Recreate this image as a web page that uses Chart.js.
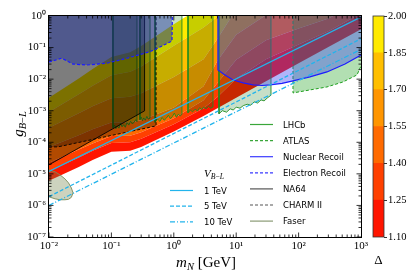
<!DOCTYPE html>
<html>
<head>
<meta charset="utf-8">
<script src="https://cdn.jsdelivr.net/npm/chart.js@4.4.1/dist/chart.umd.min.js"></script>
<style>
html,body{margin:0;padding:0;background:#fff;}
#wrap{position:relative;width:415px;height:277px;overflow:hidden;background:#fff;}
#main{position:absolute;left:0;top:0;}
#cb{position:absolute;left:362px;top:0;}
#handles{position:absolute;left:0;top:0;}
.t{position:absolute;white-space:nowrap;color:#000;}
.leg{font-family:"DejaVu Sans",sans-serif;font-size:8.5px;line-height:10px;}
.math{font-family:"Liberation Serif","DejaVu Serif",serif;}
sub{font-size:70%;vertical-align:-0.3em;line-height:0;}
</style>
</head>
<body>
<div id="wrap">
<canvas id="main" width="415" height="277"></canvas>
<canvas id="cb" width="53" height="277"></canvas>
<svg id="handles" width="415" height="277"></svg>
<div class="t math" style="left:18px;top:124px;transform:translate(-50%,-50%) rotate(-90deg);font-size:15px;line-height:16px;"><i>g</i><sub><i>B</i>−<i>L</i></sub></div>
<div class="t math" style="left:206px;top:262px;transform:translate(-50%,-50%);font-size:15px;line-height:16px;"><i>m</i><sub><i>N</i></sub> [GeV]</div>
<div class="t math" style="left:204px;top:173px;transform:translate(0,-50%);font-size:11px;line-height:12px;"><i>V</i><sub><i>B</i>−<i>L</i></sub></div>
</div>
<script>
// ---------- axis ticks ----------
const xTickValues = [1e-2, 1e-1, 1e0, 1e1, 1e2, 1e3];
const xTickLabels = ['10⁻²', '10⁻¹', '10⁰', '10¹', '10²', '10³'];
const yTickValues = [1e-7, 1e-6, 1e-5, 1e-4, 1e-3, 1e-2, 1e-1, 1e0];
const yTickLabels = ['10⁻⁷', '10⁻⁶', '10⁻⁵', '10⁻⁴', '10⁻³', '10⁻²', '10⁻¹', '10⁰'];

// ---------- Delta contour field (g values of each contour on a mass grid) ----------
const masses   = [0.01, 0.03, 0.05, 0.1, 0.2, 0.3, 1, 3, 5, 10, 30, 100, 300, 1000];
const delta110 = [6.0e-6, 1.66e-5, 2.75e-5, 5.0e-5, 5.4e-5, 7.1e-5, 2.19e-4, 6.8e-4, 1.2e-3, 2.57e-3, 8.5e-3, 3.16e-2, 0.105, 0.38];
const delta125 = [1.23e-5, 3.3e-5, 5.4e-5, 9.5e-5, 1.0e-4, 1.29e-4, 3.7e-4, 1.2e-3, 2.7e-3, 1.02e-2, 4.3e-2, 0.126, 0.33, 1.2];
const delta140 = [2.24e-5, 5.9e-5, 9.1e-5, 1.58e-4, 1.62e-4, 2.09e-4, 5.75e-4, 2.14e-3, 7.6e-3, 4.1e-2, 0.17, 0.4, 0.83, 3.0];
const delta155 = [7.1e-5, 1.66e-4, 2.57e-4, 4.2e-4, 4.3e-4, 5.0e-4, 1.26e-3, 6.0e-3, 3.8e-2, 0.257, 1.07, 1.58, 2.6, 9.5];
const delta170 = [2.9e-4, 8.3e-4, 1.38e-3, 2.5e-3, 2.75e-3, 3.6e-3, 1.17e-2, 4.3e-2, 0.19, 1.62, 5.4, 7.9, 10.5, 38];
const delta185 = [9.1e-4, 3.3e-3, 6.2e-3, 1.32e-2, 1.7e-2, 2.5e-2, 0.115, 0.43, 0.955, 6.5, 21, 32, 42, 151];
const delta200 = [2.57e-3, 1.05e-2, 2.1e-2, 5.0e-2, 7.1e-2, 0.112, 0.55, 2.14, 4.8, 26, 85, 126, 166, 600];
const deltaLevels = [1.10, 1.25, 1.40, 1.55, 1.70, 1.85, 2.00];
const bandColors = ['rgb(255,21,0)', 'rgb(255,64,0)', 'rgb(255,106,0)', 'rgb(255,149,0)', 'rgb(255,191,0)', 'rgb(255,234,0)'];

// ---------- exclusion regions ----------
const faserMass  = [0.01, 0.0125, 0.015, 0.018, 0.0205, 0.0228, 0.0243];
const faserUpper = [1.34e-5, 1.16e-5, 9.3e-6, 6.95e-6, 5.2e-6, 3.6e-6, 2.5e-6];
const faserLower = [1.87e-6, 1.62e-6, 1.51e-6, 1.51e-6, 1.56e-6, 1.8e-6, 2.5e-6];

const lhcbAMass = [0.106, 0.106, 0.112, 0.118, 0.125, 0.132, 0.14, 0.148, 0.157, 0.167, 0.178, 0.19, 0.203, 0.217, 0.232, 0.246, 0.257, 0.257];
const lhcbAG    = [1, 2.9e-4, 3.5e-4, 2.7e-4, 3.2e-4, 2.8e-4, 4.0e-4, 3.1e-4, 3.6e-4, 3.0e-4, 4.2e-4, 3.5e-4, 4.6e-4, 3.8e-4, 4.4e-4, 5.2e-4, 4.5e-4, 1];
const lhcbBMass = [0.287, 0.287, 0.30, 0.315, 0.33, 0.35, 0.37, 0.39, 0.416, 0.416];
const lhcbBG    = [1, 5.2e-4, 6.3e-4, 4.8e-4, 5.9e-4, 5.0e-4, 6.6e-4, 5.4e-4, 5.8e-4, 1];
const lhcbCMass = [0.5, 0.5, 0.55, 0.6, 0.65, 0.7, 0.76, 0.82, 0.88, 0.95, 1.02, 1.1, 1.18, 1.27, 1.35, 1.35];
const lhcbCG    = [1, 4.3e-4, 5.4e-4, 4.6e-4, 6.1e-4, 5.0e-4, 5.8e-4, 7.2e-4, 5.6e-4, 6.5e-4, 8.4e-4, 6.2e-4, 7.7e-4, 6.9e-4, 7.6e-4, 1];
const lhcbDMass = [1.69, 1.69, 1.85, 2.0, 2.2, 2.4, 2.6, 2.8, 3.0, 3.3, 3.6, 3.9, 4.25, 4.25];
const lhcbDG    = [1, 8.6e-4, 1.05e-3, 9.2e-4, 1.12e-3, 9.8e-4, 1.25e-3, 1.08e-3, 1.3e-3, 1.15e-3, 1.38e-3, 1.2e-3, 1.32e-3, 1];
const lhcbEMass = [5.3, 5.3, 6, 7, 8, 9, 10, 11.5, 13, 15, 17, 19.5, 22, 25, 28, 32, 36.1, 36.1];
const lhcbEG    = [1, 8.0e-4, 1.0e-3, 9.0e-4, 1.15e-3, 1.05e-3, 1.3e-3, 1.2e-3, 1.45e-3, 1.6e-3, 1.5e-3, 1.9e-3, 1.75e-3, 2.2e-3, 2.05e-3, 2.6e-3, 3.1e-3, 1];

const atlasMass = [81.3, 81.3, 152, 285, 515, 863, 1000];
const atlasG    = [1, 0.00366, 0.00455, 0.00566, 0.00815, 0.0136, 0.0262];

const nrMass = [5.1, 5.1, 6.6, 8.9, 12.9, 18.6, 25.9, 34.8, 54.2, 81.3, 152, 285, 554, 1000];
const nrG    = [1, 0.0196, 0.0136, 0.0094, 0.0076, 0.0066, 0.0063, 0.0066, 0.0073, 0.0088, 0.0118, 0.0169, 0.0303, 0.0583];

const charmMass = [0.01, 0.0139, 0.52, 0.52];
const charmG    = [7.15e-5, 7.15e-5, 3.3e-4, 1];

const na64Mass = [0.01, 0.34, 0.34];
const na64G    = [1.93e-5, 9.9e-4, 1];

const erMass = [0.01, 0.016, 0.0242, 0.0402, 0.084, 0.176, 0.416, 0.56, 0.935, 0.95];
const erG    = [0.035, 0.046, 0.030, 0.028, 0.0318, 0.0458, 0.0742, 0.097, 0.162, 1];

// ---------- V_{B-L} lines ----------
const vMass  = [0.01, 1000];
const v1TeV  = [1.2e-5, 0.93];
const v5TeV  = [1.9e-6, 0.19];
const v10TeV = [1.0e-6, 0.088];

// ---------- legends ----------
const vLegendLabels = ['1 TeV', '5 TeV', '10 TeV'];
const expLegendLabels = ['LHCb', 'ATLAS', 'Nuclear Recoil', 'Electron Recoil', 'NA64', 'CHARM II', 'Faser'];

function pts(xs, ys) { return xs.map((x, i) => ({x: x, y: ys[i]})); }

const datasets = [];
[delta110, delta125, delta140, delta155, delta170, delta185, delta200].forEach((c, i) => {
  datasets.push({
    data: pts(masses, c), borderWidth: 0, borderColor: 'rgba(0,0,0,0)',
    fill: i === 0 ? false : '-1',
    backgroundColor: i === 0 ? 'rgba(0,0,0,0)' : bandColors[i - 1],
    order: 20
  });
});

function region(xs, ys, fill, bg, line, dash, w, order) {
  datasets.push({data: pts(xs, ys), fill: fill, backgroundColor: bg, borderColor: line,
    borderDash: dash, borderWidth: w, order: order});
}
region(faserMass, faserUpper, '+1', 'rgba(112,128,69,0.35)', '#7d8c5a', [], 0.9, 9);
region(faserMass, faserLower, false, 'rgba(0,0,0,0)', '#7d8c5a', [], 0.9, 9);
[[lhcbAMass, lhcbAG], [lhcbBMass, lhcbBG], [lhcbCMass, lhcbCG], [lhcbDMass, lhcbDG], [lhcbEMass, lhcbEG]].forEach(p => {
  region(p[0], p[1], 'end', 'rgba(0,110,0,0.22)', '#1f8c1f', [], 0.9, 8);
});
region(atlasMass, atlasG, 'end', 'rgba(0,150,0,0.3)', '#1f9f1f', [3, 2], 1, 7);
region(nrMass, nrG, 'end', 'rgba(60,70,240,0.4)', '#1c1cff', [], 1.2, 6);
region(charmMass, charmG, 'end', 'rgba(0,0,0,0.3)', '#000000', [3, 2], 0.9, 5);
region(na64Mass, na64G, 'end', 'rgba(0,0,0,0.3)', '#000000', [], 0.9, 4);
region(erMass, erG, 'end', 'rgba(25,45,160,0.45)', '#1c1cff', [3, 2], 1.2, 3);

const vColor = '#22b4ec';
[[v1TeV, []], [v5TeV, [4, 2]], [v10TeV, [5, 2, 1, 2]]].forEach(p => {
  datasets.push({data: pts(vMass, p[0]), fill: false, borderColor: vColor, borderWidth: 1.3, borderDash: p[1], order: 0});
});

const decor = {
  id: 'decor',
  afterDraw(chart) {
    const ctx = chart.ctx, a = chart.chartArea, xs = chart.scales.x, ys = chart.scales.y;
    ctx.save();
    ctx.strokeStyle = '#000';
    ctx.lineWidth = 0.8;
    ctx.beginPath();
    for (let k = -2; k <= 2; k++) for (let j = 1; j <= 9; j++) {
      const v = j * Math.pow(10, k);
      const p = xs.getPixelForValue(v), L = j === 1 ? 4.5 : 2.5;
      ctx.moveTo(p, a.bottom); ctx.lineTo(p, a.bottom - L);
      ctx.moveTo(p, a.top); ctx.lineTo(p, a.top + L);
    }
    for (let k = -7; k <= -1; k++) for (let j = 1; j <= 9; j++) {
      const v = j * Math.pow(10, k);
      const p = ys.getPixelForValue(v), L = j === 1 ? 4.5 : 2.5;
      ctx.moveTo(a.left, p); ctx.lineTo(a.left + L, p);
      ctx.moveTo(a.right, p); ctx.lineTo(a.right - L, p);
    }
    ctx.stroke();
    ctx.lineWidth = 1;
    ctx.strokeRect(Math.round(a.left) - 0.5, Math.round(a.top) - 0.5, Math.round(a.right - a.left) + 1, Math.round(a.bottom - a.top) + 1);
    ctx.restore();
  }
};

new Chart(document.getElementById('main'), {
  type: 'line',
  data: {datasets: datasets},
  options: {
    responsive: false, animation: false, events: [],
    layout: {padding: {left: 0, top: 16, right: 54, bottom: 0}},
    plugins: {legend: {display: false}, tooltip: {enabled: false}},
    elements: {line: {tension: 0}, point: {radius: 0}},
    scales: {
      x: {
        type: 'logarithmic', min: 1e-2, max: 1e3,
        afterBuildTicks: s => { s.ticks = xTickValues.map(v => ({value: v})); },
        ticks: {callback: (v, i) => xTickLabels[i], font: {family: 'Liberation Serif', size: 11}, color: '#000', padding: 3, maxRotation: 0, autoSkip: false},
        grid: {display: false, drawTicks: false}, border: {display: false},
        afterFit: s => { s.height = 40; }
      },
      y: {
        type: 'logarithmic', min: 1e-7, max: 1,
        afterBuildTicks: s => { s.ticks = yTickValues.map(v => ({value: v})); },
        ticks: {callback: (v, i) => yTickLabels[i], font: {family: 'Liberation Serif', size: 11}, color: '#000', padding: 3, autoSkip: false},
        grid: {display: false, drawTicks: false}, border: {display: false},
        afterFit: s => { s.width = 49; }
      }
    }
  },
  plugins: [decor]
});

// ---------- colour bar ----------
const cbFrame = {
  id: 'cbFrame',
  afterDraw(chart) {
    const ctx = chart.ctx, a = chart.chartArea;
    ctx.save(); ctx.strokeStyle = '#333'; ctx.lineWidth = 0.8;
    ctx.strokeRect(a.left, a.top, a.right - a.left, a.bottom - a.top);
    ctx.restore();
  }
};
new Chart(document.getElementById('cb'), {
  type: 'bar',
  data: {
    labels: [''],
    datasets: bandColors.map((c, i) => ({
      data: [[deltaLevels[i], deltaLevels[i + 1]]], backgroundColor: c, borderWidth: 0,
      grouped: false, barPercentage: 1, categoryPercentage: 1
    }))
  },
  options: {
    responsive: false, animation: false, events: [],
    layout: {padding: {left: 11, top: 16, right: 0, bottom: 0}},
    plugins: {legend: {display: false}, tooltip: {enabled: false}},
    scales: {
      x: {
        grid: {display: false, drawTicks: false}, border: {display: false}, ticks: {display: false},
        title: {display: true, text: 'Δ', color: '#000', font: {family: 'Liberation Serif', size: 13}, padding: {top: 0, bottom: 9}},
        afterFit: s => { s.height = 40; }
      },
      y: {
        position: 'right', min: 1.10, max: 2.00,
        afterBuildTicks: s => { s.ticks = deltaLevels.map(v => ({value: v})); },
        ticks: {callback: v => v.toFixed(2), font: {family: 'Liberation Serif', size: 10.5}, color: '#000', padding: 1},
        grid: {drawOnChartArea: false, drawTicks: true, tickLength: 3, color: '#000', lineWidth: 0.8},
        border: {display: false},
        afterFit: s => { s.width = 31; }
      }
    }
  },
  plugins: [cbFrame]
});

// ---------- legends (HTML / SVG) ----------
const svg = document.getElementById('handles');
const wrap = document.getElementById('wrap');
function handle(x1, x2, y, color, dash) {
  const l = document.createElementNS('http://www.w3.org/2000/svg', 'line');
  l.setAttribute('x1', x1); l.setAttribute('x2', x2); l.setAttribute('y1', y); l.setAttribute('y2', y);
  l.setAttribute('stroke', color); l.setAttribute('stroke-width', '1.2');
  if (dash) l.setAttribute('stroke-dasharray', dash);
  svg.appendChild(l);
}
function label(x, y, text) {
  const d = document.createElement('div');
  d.className = 't leg';
  d.style.left = x + 'px'; d.style.top = (y - 5) + 'px';
  d.textContent = text;
  wrap.appendChild(d);
}
const vDash = ['', '4,2', '5,2,1,2'];
vLegendLabels.forEach((t, i) => {
  const y = 190.5 + i * 15.7;
  handle(170, 193, y, vColor, vDash[i]);
  label(204, y, t);
});
const expColors = ['#3aa63a', '#3aa63a', '#3a3aff', '#3a3aff', '#555555', '#555555', '#8a9a74'];
const expDash = ['', '3,2', '', '3,2', '', '3,2', ''];
expLegendLabels.forEach((t, i) => {
  const y = 124.5 + i * 16.1;
  handle(250, 273, y, expColors[i], expDash[i]);
  label(283, y, t);
});
</script>
</body>
</html>
